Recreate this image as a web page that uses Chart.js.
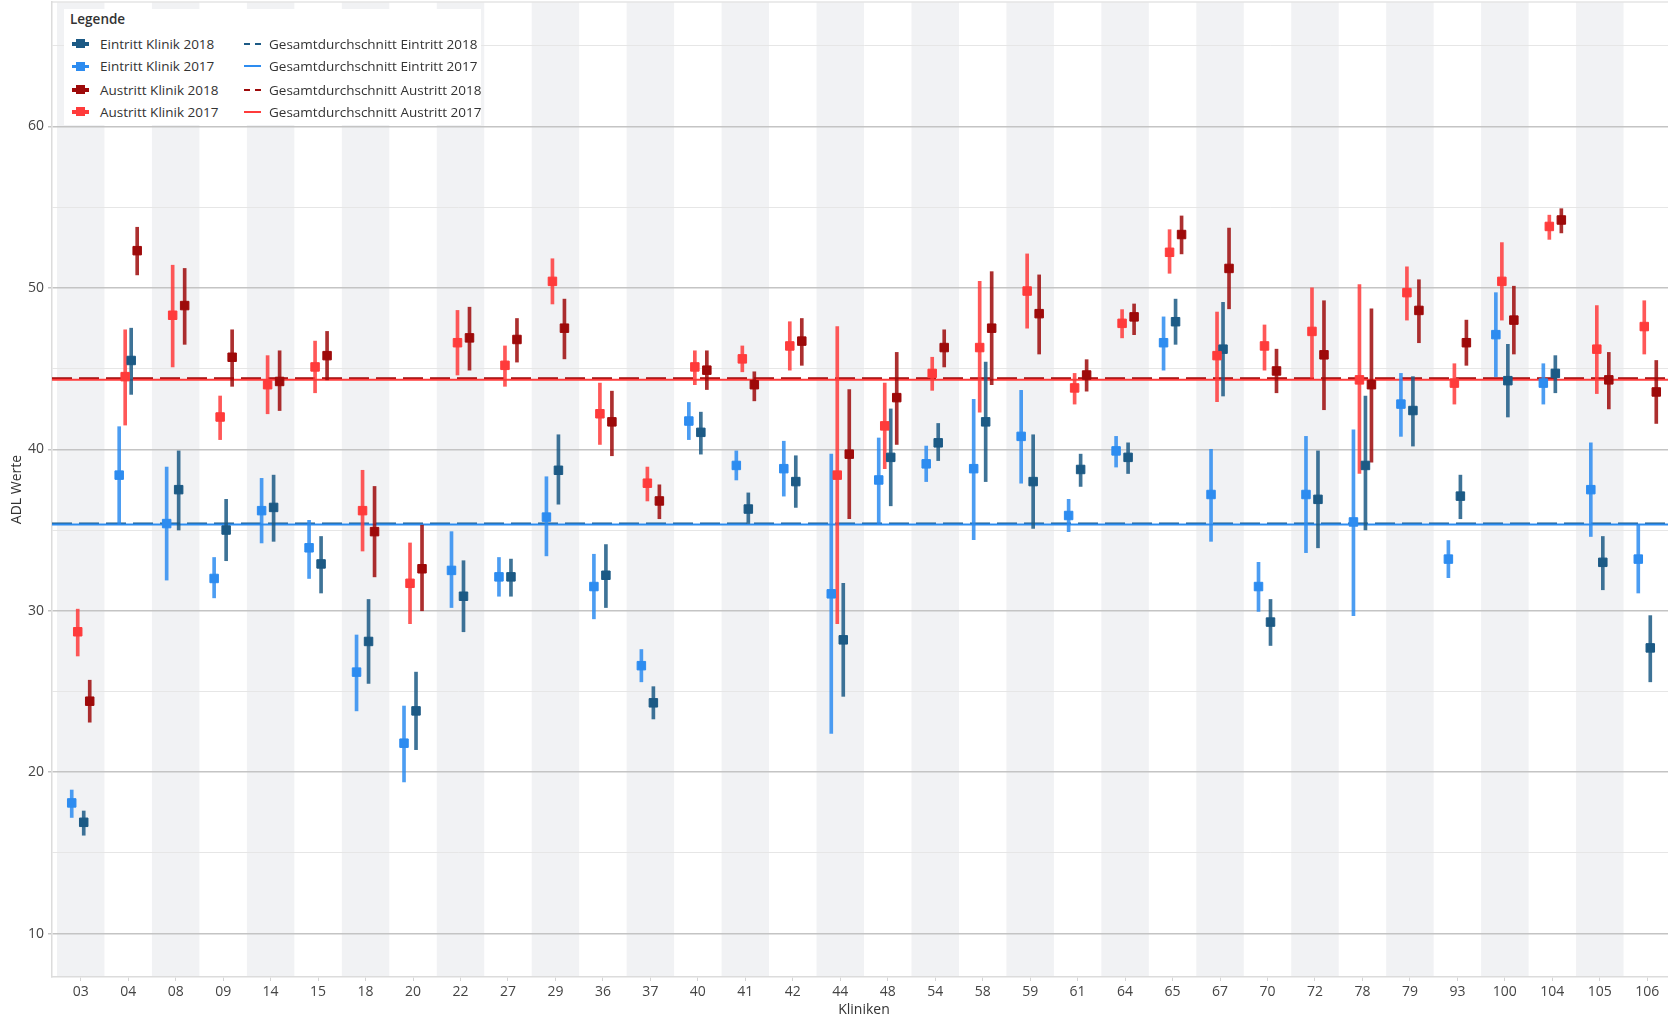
<!DOCTYPE html>
<html lang="de">
<head>
<meta charset="utf-8">
<title>ADL Werte nach Kliniken</title>
<script src="https://cdn.jsdelivr.net/npm/chart.js@4.4.1/dist/chart.umd.min.js"></script>
<style>
    html, body { margin: 0; padding: 0; background: #fff; overflow: hidden; }
    #wrap { position: relative; width: 1676px; height: 1022px; }
    #legend {
        position: absolute; left: 64px; top: 9px; width: 417px; height: 116px;
        background: #fff; font-family: 'Open Sans', sans-serif; font-size: 13.5px; color: #333;
    }
    #legend .title { position: absolute; left: 6px; top: 1px; line-height: 18px; font-weight: 600; }
    #legend .row { position: absolute; height: 18px; line-height: 18px; white-space: nowrap; }
    #legend .mk { position: absolute; left: 0; top: 0; width: 17px; height: 18px; }
    #legend .mk.pt::before { content: ''; position: absolute; left: 0; right: 0; top: 7.5px; height: 3.5px; background: var(--c); }
    #legend .mk.pt::after { content: ''; position: absolute; left: 4px; top: 4.5px; width: 9px; height: 9px; background: var(--c); }
    #legend .mk.solid::before { content: ''; position: absolute; left: 0; right: 0; top: 8px; height: 2px; background: var(--c); }
    #legend .mk.dash::before {
        content: ''; position: absolute; left: 0; right: 0; top: 8px; height: 2px;
        background: linear-gradient(to right, var(--c) 0 6px, transparent 6px 11px, var(--c) 11px 17px);
    }
    #legend .tx { position: absolute; top: 0; }
</style>
</head>
<body>
<div id="wrap">
    <canvas id="chart" width="1676" height="1022"></canvas>
    <div id="legend"><div class="title">Legende</div></div>
</div>
<script>
const clinics = ['03', '04', '08', '09', '14', '15', '18', '20', '22', '27', '29', '36', '37', '40', '41', '42', '44',
    '48', '54', '58', '59', '61', '64', '65', '67', '70', '72', '78', '79', '93', '100', '104', '105', '106'];

// Eintritt Klinik 2017
const eintritt2017 = [18.1, 38.4, 35.4, 32.0, 36.2, 33.9, 26.2, 21.8, 32.5, 32.1, 35.8, 31.5, 26.6, 41.75, 39.0, 38.8, 31.05,
    38.1, 39.1, 38.8, 40.8, 35.9, 39.9, 46.6, 37.2, 31.5, 37.2, 35.5, 42.8, 33.2, 47.1, 44.1, 37.5, 33.2];
const eintritt2017Lo = [17.2, 35.4, 31.9, 30.8, 34.2, 32.0, 23.8, 19.4, 30.2, 30.9, 33.4, 29.5, 25.6, 40.6, 38.1, 37.1, 22.4,
    35.4, 38.0, 34.4, 37.9, 34.9, 38.9, 44.9, 34.3, 29.96, 33.6, 29.7, 40.8, 32.05, 44.5, 42.8, 34.6, 31.1];
const eintritt2017Hi = [18.9, 41.4, 38.9, 33.3, 38.2, 35.6, 28.5, 24.1, 34.9, 33.3, 38.3, 33.5, 27.6, 42.9, 39.9, 40.5, 39.7,
    40.7, 40.2, 43.1, 43.65, 36.9, 40.8, 48.2, 40.0, 33.0, 40.8, 41.2, 44.7, 34.35, 49.7, 45.3, 40.4, 35.3];

// Eintritt Klinik 2018
const eintritt2018 = [16.9, 45.5, 37.5, 35.0, 36.4, 32.9, 28.1, 23.8, 30.9, 32.1, 38.7, 32.2, 24.3, 41.05, 36.3, 38.0, 28.2,
    39.5, 40.4, 41.7, 38.0, 38.75, 39.5, 47.9, 46.2, 29.3, 36.9, 39.0, 42.4, 37.1, 44.25, 44.7, 33.0, 27.7];
const eintritt2018Lo = [16.1, 43.4, 35.0, 33.1, 34.3, 31.1, 25.5, 21.4, 28.7, 30.9, 36.6, 30.2, 23.3, 39.7, 35.4, 36.4, 24.7,
    36.5, 39.3, 38.0, 35.1, 37.7, 38.5, 46.5, 43.3, 27.85, 33.9, 35.0, 40.2, 35.7, 42.0, 43.5, 31.3, 25.6];
const eintritt2018Hi = [17.6, 47.5, 39.9, 36.9, 38.4, 34.6, 30.7, 26.2, 33.1, 33.2, 40.9, 34.1, 25.3, 42.3, 37.3, 39.6, 31.7,
    42.5, 41.6, 45.4, 40.9, 39.7, 40.4, 49.3, 49.1, 30.7, 39.9, 43.3, 44.5, 38.4, 46.5, 45.8, 34.6, 29.7];

// Austritt Klinik 2017
const austritt2017 = [28.7, 44.5, 48.3, 42.0, 44.0, 45.1, 36.2, 31.7, 46.6, 45.2, 50.4, 42.2, 37.9, 45.1, 45.6, 46.4, 38.4,
    41.45, 44.7, 46.3, 49.8, 43.8, 47.8, 52.2, 45.8, 46.4, 47.3, 44.3, 49.7, 44.1, 50.4, 53.8, 46.2, 47.6];
const austritt2017Lo = [27.2, 41.5, 45.1, 40.6, 42.2, 43.5, 33.7, 29.2, 44.6, 43.9, 49.0, 40.3, 36.8, 44.0, 44.8, 44.9, 29.2,
    38.8, 43.65, 42.3, 47.5, 42.8, 46.9, 50.9, 42.95, 44.9, 44.4, 38.5, 48.0, 42.8, 48.0, 53.0, 43.45, 45.9];
const austritt2017Hi = [30.1, 47.4, 51.4, 43.3, 45.8, 46.7, 38.7, 34.2, 48.6, 46.4, 51.8, 44.1, 38.9, 46.1, 46.4, 47.9, 47.6,
    44.1, 45.7, 50.4, 52.1, 44.7, 48.65, 53.6, 48.5, 47.7, 50.0, 50.2, 51.3, 45.3, 52.8, 54.5, 48.9, 49.2];

// Austritt Klinik 2018
const austritt2018 = [24.4, 52.3, 48.9, 45.7, 44.2, 45.8, 34.9, 32.6, 46.9, 46.8, 47.5, 41.7, 36.8, 44.9, 44.0, 46.7, 39.7,
    43.2, 46.3, 47.5, 48.4, 44.6, 48.2, 53.3, 51.2, 44.85, 45.85, 44.0, 48.6, 46.6, 48.0, 54.2, 44.3, 43.55];
const austritt2018Lo = [23.1, 50.8, 46.5, 43.9, 42.4, 44.3, 32.1, 30.0, 44.9, 45.4, 45.6, 39.6, 35.7, 43.7, 43.0, 45.2, 35.7,
    40.3, 45.1, 44.0, 45.9, 43.6, 47.1, 52.1, 48.7, 43.5, 42.45, 39.2, 46.6, 45.2, 45.9, 53.4, 42.5, 41.6];
const austritt2018Hi = [25.7, 53.75, 51.2, 47.4, 46.1, 47.3, 37.7, 35.3, 48.8, 48.1, 49.3, 43.6, 37.8, 46.1, 44.8, 48.1, 43.7,
    46.0, 47.4, 51.0, 50.8, 45.55, 49.0, 54.45, 53.7, 46.2, 49.2, 48.7, 50.5, 48.0, 50.1, 54.9, 46.0, 45.5];

// Gesamtdurchschnitte
const avgEintritt2018 = 35.4;
const avgEintritt2017 = 35.35;
const avgAustritt2018 = 44.4;
const avgAustritt2017 = 44.3;

const LIGHT_BLUE = '#2d8cf0';
const DARK_BLUE = '#1c5a85';
const RED = '#ff3b3b';
const DARK_RED = '#9e0a0a';
const BAND = '#f1f2f4';
const X_MIN = -0.605;
const X_MAX = 33.605;
const PX_PER_CAT = 47.47;

// shift = horizontal offset of a series inside its clinic column, in pixels
const series = [
    { label: 'Eintritt Klinik 2017', mean: eintritt2017, lo: eintritt2017Lo, hi: eintritt2017Hi, color: LIGHT_BLUE, shift: -9 },
    { label: 'Austritt Klinik 2017', mean: austritt2017, lo: austritt2017Lo, hi: austritt2017Hi, color: RED, shift: -3 },
    { label: 'Eintritt Klinik 2018', mean: eintritt2018, lo: eintritt2018Lo, hi: eintritt2018Hi, color: DARK_BLUE, shift: 3 },
    { label: 'Austritt Klinik 2018', mean: austritt2018, lo: austritt2018Lo, hi: austritt2018Hi, color: DARK_RED, shift: 9 }
];

const averages = [
    { label: 'Gesamtdurchschnitt Eintritt 2017', value: avgEintritt2017, color: LIGHT_BLUE, dashed: false },
    { label: 'Gesamtdurchschnitt Austritt 2017', value: avgAustritt2017, color: RED, dashed: false },
    { label: 'Gesamtdurchschnitt Eintritt 2018', value: avgEintritt2018, color: DARK_BLUE, dashed: true },
    { label: 'Gesamtdurchschnitt Austritt 2018', value: avgAustritt2018, color: DARK_RED, dashed: true }
];

function withAlpha(hex, a) {
    const n = parseInt(hex.slice(1), 16);
    return `rgba(${(n >> 16) & 255}, ${(n >> 8) & 255}, ${n & 255}, ${a})`;
}

const datasets = [];

averages.forEach(avg => {
    datasets.push({
        type: 'line',
        label: avg.label,
        data: [{ x: X_MIN, y: avg.value }, { x: X_MAX, y: avg.value }],
        borderColor: avg.color,
        borderWidth: 2,
        borderDash: avg.dashed ? [20, 7] : [],
        pointRadius: 0,
        order: 3
    });
});

series.forEach(s => {
    const dx = s.shift / PX_PER_CAT;
    datasets.push({
        type: 'bar',
        label: s.label + ' Bereich',
        data: clinics.map((c, i) => ({ x: i + dx, y: [s.lo[i], s.hi[i]] })),
        backgroundColor: withAlpha(s.color, 0.85),
        barThickness: 3,
        grouped: false,
        order: 2
    });
    datasets.push({
        type: 'scatter',
        label: s.label,
        data: clinics.map((c, i) => ({ x: i + dx, y: s.mean[i] })),
        pointStyle: 'rect',
        pointRadius: 6,
        borderWidth: 1,
        backgroundColor: s.color,
        borderColor: s.color,
        order: 1
    });
});

// grey bands behind every second clinic + thin top border
const bandPlugin = {
    id: 'bands',
    beforeDraw(chart) {
        const { ctx, chartArea: a, scales: { x } } = chart;
        ctx.save();
        ctx.fillStyle = BAND;
        clinics.forEach((c, i) => {
            if (i % 2) return;
            const l = x.getPixelForValue(i - 0.5);
            const r = x.getPixelForValue(i + 0.5);
            ctx.fillRect(l, a.top, r - l, a.bottom - a.top);
        });
        ctx.strokeStyle = '#e4e4e4';
        ctx.lineWidth = 1.5;
        ctx.beginPath();
        ctx.moveTo(a.left, a.top);
        ctx.lineTo(a.right, a.top);
        ctx.stroke();
        ctx.restore();
    }
};

Chart.defaults.font.family = "'Open Sans', sans-serif";
Chart.defaults.color = '#444';

const isMajor = v => Math.abs(v % 10) < 1e-6;

new Chart(document.getElementById('chart'), {
    type: 'scatter',
    data: { datasets },
    options: {
        responsive: false,
        animation: false,
        devicePixelRatio: 1,
        layout: { autoPadding: false, padding: { top: 2, left: 0, right: 0, bottom: 0 } },
        plugins: {
            legend: { display: false },
            tooltip: { enabled: false }
        },
        scales: {
            x: {
                type: 'linear',
                min: X_MIN,
                max: X_MAX,
                offset: false,
                afterBuildTicks(scale) {
                    scale.ticks = clinics.map((c, i) => ({ value: i }));
                },
                afterFit(scale) {
                    scale.height = 45;
                    scale.paddingLeft = 0;
                    scale.paddingRight = 0;
                },
                ticks: {
                    autoSkip: false,
                    maxRotation: 0,
                    padding: 3,
                    color: '#444',
                    font: { size: 14 },
                    callback: (v, i) => clinics[i]
                },
                grid: { drawOnChartArea: false, offset: false, tickLength: 4, color: '#d4d4d4' },
                border: { color: '#dcdcdc', width: 1.5 },
                title: { display: true, text: 'Kliniken', color: '#333', font: { size: 14 }, padding: { top: 0, bottom: 4 } }
            },
            y: {
                min: 7.32,
                max: 67.7,
                afterFit(scale) {
                    scale.width = 52;
                    scale.paddingTop = 0;
                    scale.paddingBottom = 0;
                },
                ticks: {
                    stepSize: 5,
                    includeBounds: false,
                    padding: 4,
                    color: '#444',
                    font: { size: 14 },
                    callback: v => isMajor(v) ? v : ''
                },
                grid: {
                    color: c => c.tick && isMajor(c.tick.value) ? '#c4c4c4' : '#e6e6e6',
                    lineWidth: c => c.tick && isMajor(c.tick.value) ? 1.5 : 1,
                    tickColor: c => c.tick && isMajor(c.tick.value) ? '#c4c4c4' : 'rgba(0,0,0,0)',
                    tickLength: 4
                },
                border: { color: '#dcdcdc', width: 1.5 },
                title: { display: true, text: 'ADL Werte', color: '#333', font: { size: 14 }, padding: { top: 9 } }
            }
        }
    },
    plugins: [bandPlugin]
});

// legend box (two columns, as in the original)
const legendCols = [
    { left: 8, textLeft: 28, kind: 'pt', items: [series[2], series[0], series[3], series[1]] },
    { left: 180, textLeft: 25, kind: 'line', items: [averages[2], averages[0], averages[3], averages[1]] }
];
const rowTops = [25.5, 48, 71.5, 93.5];
const legend = document.getElementById('legend');

legendCols.forEach(col => {
    col.items.forEach((item, r) => {
        const row = document.createElement('div');
        row.className = 'row';
        row.style.left = col.left + 'px';
        row.style.top = rowTops[r] + 'px';
        const mk = document.createElement('span');
        mk.className = 'mk ' + (col.kind === 'pt' ? 'pt' : (item.dashed ? 'dash' : 'solid'));
        mk.style.setProperty('--c', item.color);
        const tx = document.createElement('span');
        tx.className = 'tx';
        tx.style.left = col.textLeft + 'px';
        tx.textContent = item.label;
        row.appendChild(mk);
        row.appendChild(tx);
        legend.appendChild(row);
    });
});
</script>
</body>
</html>
